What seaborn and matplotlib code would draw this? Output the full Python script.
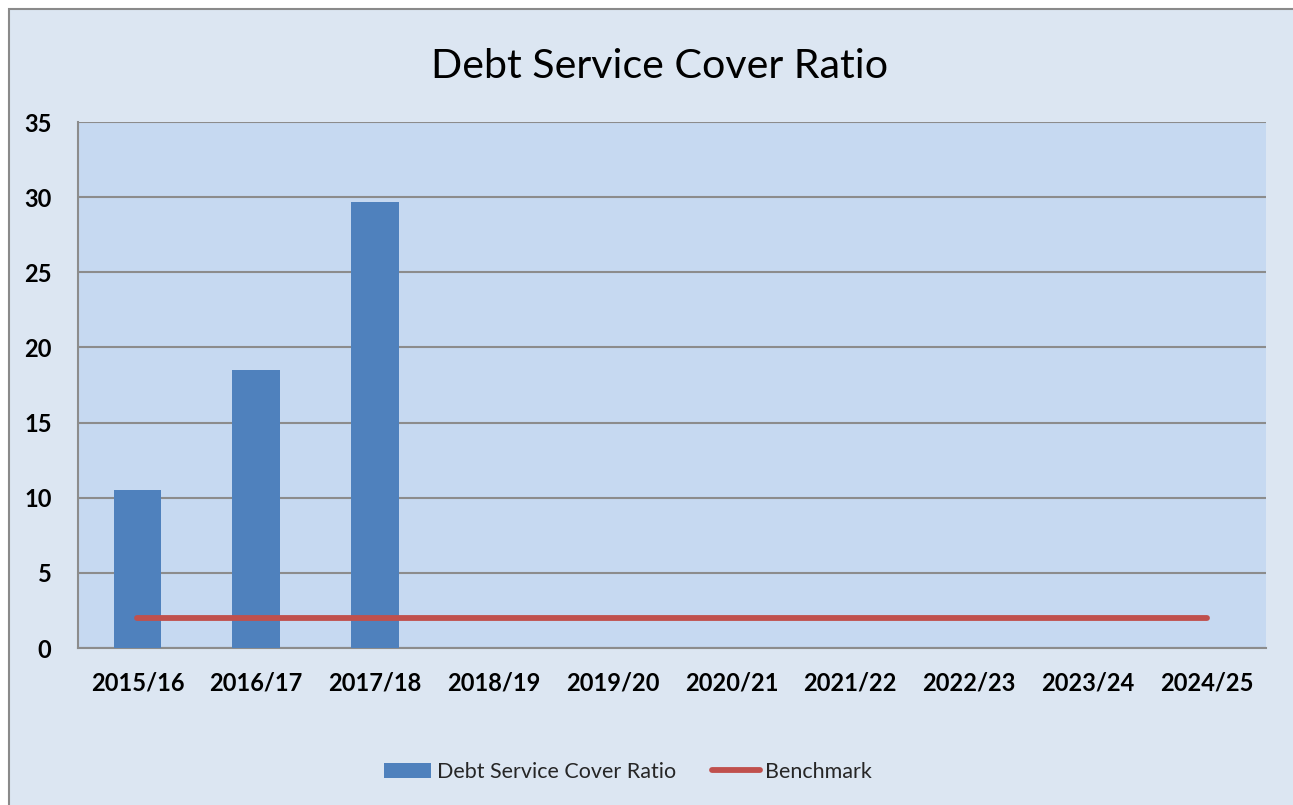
import matplotlib
matplotlib.use("Agg")
import matplotlib.pyplot as plt
import seaborn as sns
import pandas as pd
from matplotlib.patches import Rectangle, Patch
from matplotlib.lines import Line2D

years = ["2015/16", "2016/17", "2017/18", "2018/19", "2019/20",
         "2020/21", "2021/22", "2022/23", "2023/24", "2024/25"]
dscr_years = ["2015/16", "2016/17", "2017/18"]
dscr_values = [10.5, 18.5, 29.7]
benchmark = [2, 2, 2, 2, 2, 2, 2, 2, 2, 2]
y_ticks = [0, 5, 10, 15, 20, 25, 30, 35]

sns.set_theme(style="white")
plt.rcParams["font.family"] = ["Lato", "DejaVu Sans"]

fig_bg = "#DCE6F2"
ax_bg = "#C6D9F1"
bar_color = "#4F81BD"
line_color = "#C0504D"
grid_color = "#8C8C8C"

fig = plt.figure(figsize=(12.93, 8.05), dpi=100)
fig.patch.set_facecolor("white")
# chart frame
fig.add_artist(Rectangle((9 / 1293, -0.05), 1.2, (805 - 9) / 805 + 0.05,
                         transform=fig.transFigure, facecolor=fig_bg,
                         edgecolor="#8A8A8A", linewidth=1.5, zorder=-10))

ax = fig.add_axes([78 / 1293, 1 - 648 / 805, (1266 - 78) / 1293, (648 - 122) / 805])
ax.set_facecolor(ax_bg)

df = pd.DataFrame({"year": dscr_years, "value": dscr_values})
sns.barplot(data=df, x="year", y="value", order=years, color=bar_color,
            saturation=1, width=0.4, ax=ax, zorder=3,
            edgecolor="none", linewidth=0)
ax.plot(years, benchmark, color=line_color, linewidth=4.2,
        solid_capstyle="round", zorder=4)

ax.set_xlim(-0.5, len(years) - 0.5)
ax.set_ylim(0, 35)
ax.set_yticks(y_ticks)
ax.yaxis.grid(True, color=grid_color, linewidth=1.5, zorder=0)
ax.set_axisbelow(True)
for s in ["top", "right"]:
    ax.spines[s].set_visible(False)
for s in ["left", "bottom"]:
    ax.spines[s].set_color(grid_color)
    ax.spines[s].set_linewidth(1.5)
ax.set_xlabel("")
ax.set_ylabel("")
ax.tick_params(axis="y", length=0, pad=19, labelsize=17)
ax.tick_params(axis="x", length=0, pad=17, labelsize=17)
for lbl in ax.get_xticklabels() + ax.get_yticklabels():
    lbl.set_fontweight("bold")
    lbl.set_color("black")

fig.text(660 / 1293, 1 - 66 / 805, "Debt Service Cover Ratio", ha="center",
         va="center", fontsize=29.6, color="black")

handles = [Patch(facecolor=bar_color, edgecolor="none"),
           Line2D([0], [0], color=line_color, linewidth=4.2, solid_capstyle="round")]
fig.legend(handles, ["Debt Service Cover Ratio", "Benchmark"], loc="center",
           bbox_to_anchor=(628 / 1293, 1 - 772 / 805), ncol=2, frameon=False,
           fontsize=15.5, handlelength=2.2, handleheight=0.7, handletextpad=0.25,
           columnspacing=1.7)

fig.savefig("out.png", dpi=100, facecolor=fig.get_facecolor())
